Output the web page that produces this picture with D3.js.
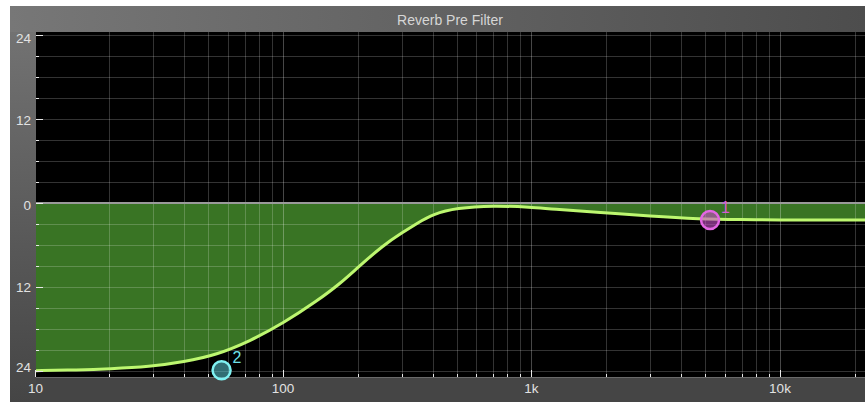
<!DOCTYPE html>
<html><head><meta charset="utf-8">
<script src="https://cdn.jsdelivr.net/npm/d3@7"></script>
<style>
html,body{margin:0;padding:0;background:#fff;}
svg{display:block;font-family:"Liberation Sans",Arial,Helvetica,sans-serif;}
</style></head>
<body>
<script>
// ---- data ----
const chartTitle = "Reverb Pre Filter";
const curveFreqs = [10, 15, 20, 29, 40, 54, 74, 100, 137, 170, 200, 254, 300, 350, 400, 500, 700, 1000, 1200, 1900, 3000, 4760, 7000, 10000, 15000, 22000];
const curveGains = [-23.95, -23.85, -23.7, -23.4, -22.7, -21.7, -19.7, -17.2, -14.0, -11.5, -9.2, -6.0, -4.3, -2.8, -1.6, -0.7, -0.36, -0.6, -0.86, -1.33, -1.9, -2.3, -2.38, -2.42, -2.43, -2.43];
const markerIds = ["1", "2"];
const markerFreqs = [5230, 56.6];
const markerGains = [-2.43, -23.9];
const yTickValues = [24, 12, 0, -12, -24];
const yTickLabels = ["24", "12", "0", "12", "24"];
const xTickValues = [10, 100, 1000, 10000];
const xTickLabels = ["10", "100", "1k", "10k"];

// ---- layout ----
const W = 865, H = 402;
const frame = {x: 10, y: 6};
const plot = {left: 36, top: 32, right: 864, bottom: 377};

const svg = d3.select("body").append("svg").attr("width", W).attr("height", H);
const defs = svg.append("defs");
const hg = defs.append("linearGradient").attr("id", "hdr").attr("x1", 0).attr("x2", 1).attr("y1", 0).attr("y2", 0);
hg.append("stop").attr("offset", 0).attr("stop-color", "#777777");
hg.append("stop").attr("offset", 1).attr("stop-color", "#4d4d4d");
const lg = defs.append("linearGradient").attr("id", "lft").attr("x1", 0).attr("x2", 0).attr("y1", 0).attr("y2", 1);
lg.append("stop").attr("offset", 0).attr("stop-color", "#727272");
lg.append("stop").attr("offset", 1).attr("stop-color", "#454545");

// frame pieces
svg.append("rect").attr("x", frame.x).attr("y", frame.y).attr("width", W - frame.x).attr("height", plot.top - frame.y).attr("fill", "url(#hdr)");
svg.append("rect").attr("x", frame.x).attr("y", plot.top).attr("width", plot.left - frame.x).attr("height", H - plot.top).attr("fill", "url(#lft)");
svg.append("rect").attr("x", plot.left).attr("y", plot.bottom).attr("width", W - plot.left).attr("height", H - plot.bottom).attr("fill", "#454545");
svg.append("line").attr("x1", plot.left).attr("x2", W).attr("y1", plot.bottom + 0.5).attr("y2", plot.bottom + 0.5).attr("stroke", "#6a6a6a");
svg.append("rect").attr("x", plot.left).attr("y", plot.top).attr("width", plot.right - plot.left + 1).attr("height", plot.bottom - plot.top).attr("fill", "#000");

svg.append("text").attr("x", 450).attr("y", 20).attr("dy", "0.35em").attr("text-anchor", "middle")
  .attr("font-size", 14).attr("fill", "#d6d6d6").text(chartTitle);

// scales
const xs = d3.scaleLog().domain([10, 10000]).range([34.5, 780]);
const y = d3.scaleLinear().domain([24, -24]).range([35, 371]);

const g = svg.append("g");
const clipId = "plotclip";
defs.append("clipPath").attr("id", clipId).append("rect")
  .attr("x", plot.left).attr("y", plot.top).attr("width", plot.right - plot.left + 1).attr("height", plot.bottom - plot.top);
const pg = g.append("g").attr("clip-path", `url(#${clipId})`);

const pts = curveFreqs.map((f, i) => [f, curveGains[i]]);
const curveType = d3.curveBasis;
// fill between 0 and curve
const area = d3.area().x(d => xs(d[0])).y0(y(0)).y1(d => y(d[1])).curve(curveType);
pg.append("path").datum(pts).attr("d", area).attr("fill", "#397424");

// gridlines
const decades = [10, 100, 1000, 10000];
const gridFreqs = [];
decades.forEach(dec => { for (let m = 1; m <= 9; m++) { const f = dec * m; if (f <= 20000) gridFreqs.push(f); } });
gridFreqs.forEach(f => {
  const isDec = decades.includes(f);
  pg.append("line").attr("x1", Math.round(xs(f)) + 0.5).attr("x2", Math.round(xs(f)) + 0.5)
    .attr("y1", plot.top).attr("y2", plot.bottom)
    .attr("stroke", "#fff").attr("stroke-opacity", isDec ? 0.28 : 0.2).attr("stroke-width", 1);
});
for (let v = -24; v <= 24; v += 3) {
  if (v === 0) continue;
  pg.append("line").attr("x1", plot.left).attr("x2", plot.right + 1)
    .attr("y1", Math.round(y(v)) + 0.5).attr("y2", Math.round(y(v)) + 0.5)
    .attr("stroke", "#fff").attr("stroke-opacity", 0.2);
}
// zero line
pg.append("line").attr("x1", plot.left).attr("x2", plot.right + 1).attr("y1", y(0)).attr("y2", y(0))
  .attr("stroke", "#9a9a9a").attr("stroke-width", 2);

// curve
const line = d3.line().x(d => xs(d[0])).y(d => y(d[1])).curve(curveType);
pg.append("path").datum(pts).attr("d", line).attr("fill", "none").attr("stroke", "#bdf770").attr("stroke-width", 3);

// axis ticks
for (let v = -24; v <= 24; v += 3) {
  const big = v % 12 === 0;
  g.append("line").attr("x1", plot.left).attr("x2", plot.left + (big ? 7 : 3))
    .attr("y1", Math.round(y(v)) + 0.5).attr("y2", Math.round(y(v)) + 0.5)
    .attr("stroke", "#e8e8e8").attr("stroke-width", 1);
}
gridFreqs.forEach(f => {
  const isDec = decades.includes(f);
  g.append("line").attr("x1", Math.round(xs(f)) + 0.5).attr("x2", Math.round(xs(f)) + 0.5)
    .attr("y1", plot.bottom - (isDec ? 7 : 3)).attr("y2", plot.bottom)
    .attr("stroke", "#e8e8e8").attr("stroke-width", 1);
});

// y labels
const yLabelY = [38, 120.5, 205, 287, 367];
yTickValues.forEach((v, i) => {
  g.append("text").attr("x", 31).attr("y", yLabelY[i]).attr("dy", "0.35em").attr("text-anchor", "end")
    .attr("font-size", 13.5).attr("fill", "#e2e2e2").text(yTickLabels[i]);
});
// x labels
xTickValues.forEach((v, i) => {
  g.append("text").attr("x", xs(v) + (i === 0 ? 1 : 0)).attr("y", 388).attr("dy", "0.35em").attr("text-anchor", "middle")
    .attr("font-size", 13.5).attr("fill", "#e2e2e2").text(xTickLabels[i]);
});

// markers
const mStroke = ["#e466e4", "#7ff2f2"];
const mFill = ["rgba(200,80,200,0.6)", "rgba(90,200,210,0.55)"];
const mText = ["#d45ad4", "#6fe0e8"];
markerIds.forEach((id, i) => {
  const cx = xs(markerFreqs[i]), cy = y(markerGains[i]);
  g.append("circle").attr("cx", cx).attr("cy", cy).attr("r", 9)
    .attr("fill", mFill[i]).attr("stroke", mStroke[i]).attr("stroke-width", 2.5);
  g.append("text").attr("x", cx + 15.5).attr("y", cy - 12.5).attr("dy", "0.35em").attr("text-anchor", "middle")
    .attr("font-size", 16).attr("fill", mText[i]).text(id);
});
</script>
</body></html>
